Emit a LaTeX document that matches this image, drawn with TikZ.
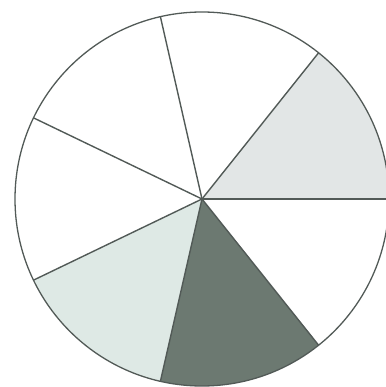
\documentclass[tikz,border=0pt]{standalone}
\usepackage{xcolor}
\usepackage{tikz}
\definecolor{PieDark}{RGB}{108,121,113}
\definecolor{PieLight}{RGB}{226,230,230}
\definecolor{PieMint}{RGB}{222,233,229}
\definecolor{PieLine}{RGB}{82,90,87}

\begin{document}
\begin{tikzpicture}
	\useasboundingbox (-202pt,-188pt) rectangle (183pt,199pt);
	
	% 着色扇形 (每份 360/7 度)
	\fill[PieLight] (0,0) -- (0:187pt) arc (0:360/7:187pt) -- cycle;
	\fill[PieMint] (0,0) -- ({4*360/7}:187pt) arc ({4*360/7}:{5*360/7}:187pt) -- cycle;
	\fill[PieDark] (0,0) -- ({5*360/7}:187pt) arc ({5*360/7}:{6*360/7}:187pt) -- cycle;
	
	% 外圆
	\draw[PieLine, line width=1.3pt] (0,0) circle (187pt);
	
	% 七条半径
	\foreach \k in {0,...,6}
		\draw[PieLine, line width=1.4pt] (0,0) -- ({\k*360/7}:187pt);
\end{tikzpicture}
\end{document}
